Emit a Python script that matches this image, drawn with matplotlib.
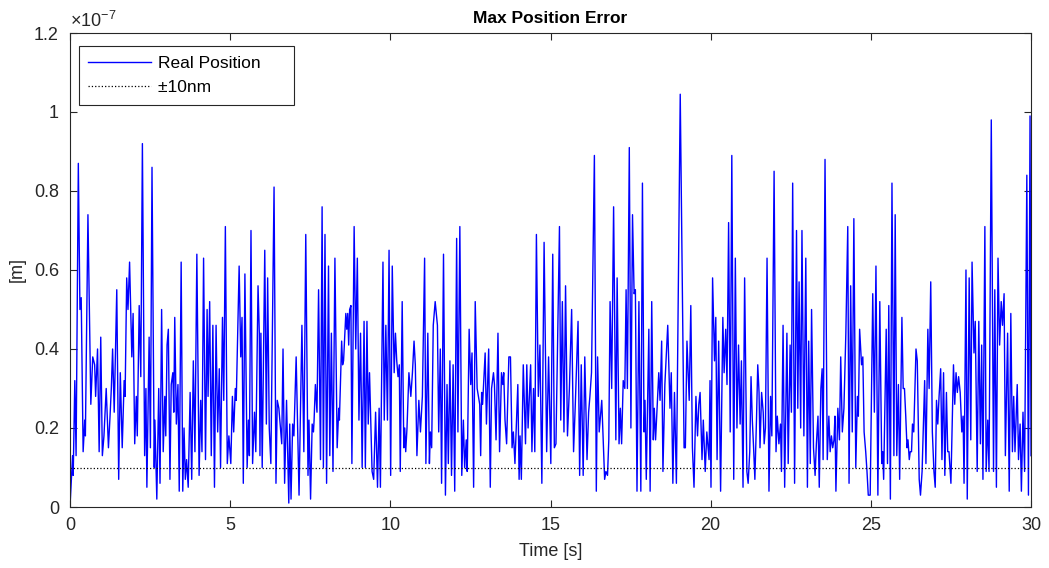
import matplotlib
matplotlib.use("Agg")
import matplotlib.pyplot as plt
from matplotlib.ticker import FuncFormatter

# position error samples (time in s, error in nm)
time_s = [
    0.00, 0.08, 0.10, 0.15, 0.19, 0.26, 0.31, 0.35, 0.41, 0.46, 0.48, 0.56, 0.65, 0.71, 0.77, 0.80, 0.86, 0.91, 0.96, 1.01, 1.06, 1.13, 1.20, 1.25, 1.29, 1.33, 1.38, 1.46, 1.52, 1.57, 1.63, 1.69, 1.72, 1.77, 1.81, 1.86, 1.93, 1.97, 2.02, 2.07, 2.10, 2.16, 2.21, 2.26, 2.33, 2.37, 2.40, 2.47, 2.51,
    2.56, 2.63, 2.65, 2.71, 2.77, 2.81, 2.86, 2.91, 2.96, 2.99, 3.03, 3.07, 3.12, 3.16, 3.21, 3.24, 3.27, 3.32, 3.37, 3.41, 3.47, 3.52, 3.56, 3.60, 3.64, 3.69, 3.75, 3.80, 3.85, 3.90, 3.96, 4.03, 4.08, 4.12, 4.17, 4.23, 4.28, 4.31, 4.36, 4.41, 4.46, 4.51, 4.56, 4.61, 4.66, 4.70, 4.76, 4.80, 4.85, 4.91, 4.96,
    5.02, 5.07, 5.11, 5.16, 5.19, 5.28, 5.33, 5.37, 5.41, 5.46, 5.53, 5.57, 5.60, 5.65, 5.70, 5.76, 5.80, 5.87, 5.91, 5.93, 5.96, 6.00, 6.08, 6.13, 6.17, 6.22, 6.27, 6.37, 6.43, 6.47, 6.52, 6.57, 6.61, 6.65, 6.70, 6.76, 6.83, 6.86, 6.90, 6.95, 6.99, 7.06, 7.15, 7.24, 7.30, 7.36, 7.43, 7.46,
    7.51, 7.56, 7.60, 7.62, 7.66, 7.71, 7.76, 7.82, 7.87, 7.91, 7.96, 8.01, 8.07, 8.11, 8.16, 8.21, 8.27, 8.34, 8.39, 8.41, 8.48, 8.51, 8.54, 8.61, 8.64, 8.67, 8.70, 8.73, 8.77, 8.80, 8.87, 8.92, 8.97, 9.02, 9.07, 9.12, 9.18, 9.22, 9.27, 9.31, 9.35, 9.43, 9.48, 9.54, 9.60, 9.65, 9.69, 9.77, 9.81, 9.86, 9.91, 9.96,
    10.01, 10.06, 10.12, 10.16, 10.20, 10.24, 10.28, 10.31, 10.37, 10.42, 10.45, 10.48, 10.52, 10.58, 10.64, 10.69, 10.74, 10.78, 10.83, 10.89, 10.94, 11.00, 11.07, 11.11, 11.17, 11.22, 11.25, 11.29, 11.34, 11.40, 11.47, 11.51, 11.56, 11.60, 11.66, 11.72, 11.77, 11.81, 11.86, 11.91, 11.96, 12.01, 12.07, 12.11, 12.17, 12.23, 12.28, 12.32, 12.37, 12.40,
    12.46, 12.51, 12.55, 12.60, 12.65, 12.71, 12.75, 12.79, 12.82, 12.85, 12.88, 12.96, 13.00, 13.07, 13.12, 13.16, 13.22, 13.25, 13.30, 13.36, 13.41, 13.47, 13.51, 13.54, 13.58, 13.63, 13.70, 13.75, 13.80, 13.84, 13.89, 13.98, 14.02, 14.05, 14.09, 14.15, 14.22, 14.26, 14.30, 14.34, 14.38, 14.42, 14.47, 14.51, 14.56, 14.62, 14.67, 14.73, 14.80, 14.88,
    14.94, 15.01, 15.07, 15.12, 15.17, 15.28, 15.32, 15.37, 15.42, 15.47, 15.53, 15.59, 15.66, 15.72, 15.77, 15.86, 15.91, 15.96, 16.02, 16.07, 16.14, 16.19, 16.23, 16.28, 16.37, 16.43, 16.47, 16.52, 16.56, 16.60, 16.65, 16.69, 16.73, 16.78, 16.82, 16.86, 16.91, 16.97, 17.04, 17.08, 17.14, 17.18, 17.22, 17.27, 17.32, 17.36, 17.40, 17.46,
    17.51, 17.56, 17.61, 17.65, 17.70, 17.76, 17.82, 17.87, 17.92, 17.95, 17.99, 18.07, 18.11, 18.16, 18.21, 18.24, 18.28, 18.38, 18.42, 18.47, 18.51, 18.57, 18.66, 18.73, 18.77, 18.82, 18.87, 18.93, 19.05, 19.17, 19.21, 19.26, 19.33, 19.38, 19.43, 19.48, 19.54, 19.59, 19.63, 19.67, 19.73, 19.77, 19.83, 19.88,
    19.95, 19.98, 20.01, 20.06, 20.12, 20.16, 20.20, 20.25, 20.31, 20.38, 20.42, 20.47, 20.51, 20.56, 20.61, 20.66, 20.72, 20.77, 20.82, 20.87, 20.92, 20.96, 21.01, 21.06, 21.13, 21.17, 21.22, 21.26, 21.30, 21.34, 21.38, 21.43, 21.47, 21.51, 21.54, 21.59, 21.64, 21.67, 21.71, 21.76, 21.82, 21.87, 21.91, 21.98, 22.04, 22.08, 22.13, 22.18, 22.21, 22.26, 22.31, 22.38, 22.42,
    22.48, 22.52, 22.56, 22.62, 22.68, 22.72, 22.76, 22.81, 22.85, 22.91, 22.97, 23.02, 23.06, 23.11, 23.15, 23.21, 23.26, 23.30, 23.35, 23.39, 23.44, 23.48, 23.51, 23.57, 23.64, 23.69, 23.73, 23.77, 23.81, 23.85, 23.88, 23.91, 23.97, 24.02, 24.06, 24.11, 24.16, 24.22, 24.28, 24.32, 24.37, 24.42, 24.47, 24.53, 24.58, 24.61, 24.65, 24.71, 24.75, 24.79, 24.84, 24.88, 24.92,
    24.98, 25.06, 25.11, 25.16, 25.22, 25.28, 25.34, 25.37, 25.40, 25.48, 25.52, 25.56, 25.61, 25.66, 25.72, 25.76, 25.81, 25.86, 25.90, 25.97, 26.01, 26.05, 26.09, 26.13, 26.16, 26.20, 26.23, 26.27, 26.30, 26.34, 26.41, 26.45, 26.51, 26.55, 26.60, 26.68, 26.72, 26.78, 26.82, 26.87, 26.92, 26.97, 27.01, 27.05, 27.09, 27.13, 27.18, 27.22, 27.27, 27.31, 27.36, 27.40, 27.44,
    27.50, 27.58, 27.62, 27.66, 27.70, 27.74, 27.79, 27.84, 27.88, 27.91, 27.97, 28.01, 28.07, 28.12, 28.16, 28.22, 28.26, 28.32, 28.37, 28.42, 28.46, 28.50, 28.56, 28.60, 28.65, 28.69, 28.76, 28.83, 28.87, 28.92, 28.97, 29.02, 29.07, 29.11, 29.16, 29.20, 29.27, 29.32, 29.37, 29.42, 29.46, 29.50, 29.57, 29.61, 29.66, 29.70, 29.75, 29.80, 29.87, 29.92, 29.97, 30.00,
]
error_nm = [
    0, 13, 8, 32, 13, 87, 50, 53, 14, 22, 18, 74, 26, 38, 36, 28, 40, 14, 43, 13, 18, 30, 15, 23, 30, 40, 24, 55, 7, 34, 15, 32, 28, 58, 50, 62, 38, 49, 16, 28, 18, 51, 33, 92, 13, 30, 5, 43, 15,
    86, 10, 22, 2, 30, 6, 50, 14, 28, 18, 41, 45, 7, 31, 34, 24, 48, 21, 31, 4, 62, 4, 20, 7, 12, 5, 29, 7, 37, 14, 64, 8, 27, 14, 63, 12, 50, 28, 52, 13, 46, 5, 46, 19, 35, 10, 48, 27, 71, 11, 18,
    11, 28, 19, 30, 27, 61, 38, 48, 6, 59, 10, 22, 13, 70, 11, 24, 14, 56, 44, 13, 44, 10, 65, 21, 58, 20, 11, 81, 6, 27, 25, 20, 16, 40, 6, 27, 1, 21, 2, 21, 18, 38, 3, 46, 14, 69, 8, 22,
    2, 21, 19, 22, 31, 24, 55, 12, 76, 10, 69, 6, 61, 13, 44, 9, 63, 15, 25, 22, 42, 36, 37, 49, 45, 49, 41, 50, 51, 11, 71, 40, 63, 22, 44, 10, 47, 10, 47, 21, 34, 9, 7, 24, 5, 25, 5, 62, 22, 46, 22, 65,
    8, 61, 34, 44, 37, 33, 36, 9, 52, 15, 20, 14, 20, 34, 28, 34, 42, 36, 13, 27, 19, 28, 63, 11, 44, 11, 19, 15, 46, 52, 46, 19, 40, 6, 64, 3, 31, 11, 37, 8, 36, 4, 68, 19, 71, 8, 22, 10, 17, 9,
    45, 31, 39, 5, 52, 30, 28, 26, 13, 29, 26, 39, 21, 40, 5, 30, 34, 31, 17, 44, 14, 34, 31, 34, 22, 16, 38, 38, 15, 19, 11, 31, 7, 18, 7, 36, 16, 36, 20, 28, 36, 14, 30, 14, 69, 28, 41, 6, 67, 14,
    38, 11, 64, 15, 16, 71, 22, 52, 19, 56, 18, 30, 50, 14, 25, 47, 8, 36, 8, 38, 12, 24, 28, 34, 89, 4, 38, 19, 23, 27, 16, 7, 9, 8, 17, 52, 30, 76, 17, 58, 16, 25, 16, 32, 30, 55, 30, 91,
    20, 74, 54, 55, 4, 52, 4, 82, 19, 27, 7, 45, 4, 52, 17, 25, 17, 34, 27, 42, 9, 31, 46, 25, 34, 6, 29, 6, 104.5, 15, 15, 42, 27, 51, 15, 5, 28, 18, 26, 29, 12, 22, 9, 19,
    12, 32, 5, 58, 37, 48, 12, 42, 4, 48, 34, 45, 31, 72, 19, 89, 7, 63, 20, 41, 21, 37, 5, 58, 9, 6, 14, 33, 22, 15, 7, 22, 36, 29, 15, 29, 24, 16, 20, 63, 4, 28, 18, 85, 14, 23, 16, 21, 9, 46, 5, 44, 11,
    41, 24, 82, 6, 70, 25, 57, 20, 70, 18, 63, 5, 42, 11, 50, 15, 8, 16, 23, 5, 30, 35, 12, 88, 12, 23, 14, 18, 15, 17, 23, 4, 25, 17, 38, 19, 25, 44, 71, 6, 56, 19, 73, 10, 28, 23, 45, 36, 38, 19, 14, 9, 3,
    3, 54, 24, 61, 3, 52, 11, 14, 7, 45, 11, 51, 2, 82, 13, 74, 13, 31, 7, 48, 30, 30, 23, 15, 17, 12, 14, 14, 21, 19, 40, 37, 7, 3, 9, 32, 11, 45, 30, 57, 19, 9, 5, 27, 21, 28, 35, 12, 34, 8, 29, 14, 14,
    6, 36, 26, 34, 29, 33, 29, 19, 23, 6, 60, 2, 58, 17, 62, 39, 47, 9, 47, 16, 41, 7, 71, 9, 22, 9, 98, 9, 55, 5, 63, 41, 52, 46, 54, 13, 44, 4, 49, 14, 28, 14, 31, 12, 21, 4, 24, 9, 84, 3, 99, 13,
]
limit_nm = 10
x_ticks = [0, 5, 10, 15, 20, 25, 30]
y_ticks = [0, 0.2e-7, 0.4e-7, 0.6e-7, 0.8e-7, 1.0e-7, 1.2e-7]

plt.rcParams['font.family'] = ['Liberation Sans', 'DejaVu Sans']
plt.rcParams['mathtext.fontset'] = 'custom'
plt.rcParams['mathtext.rm'] = 'Liberation Sans'

err_m = [v * 1e-9 for v in error_nm]

fig = plt.figure(figsize=(10.49, 5.68), dpi=100)
ax = fig.add_axes([70 / 1049, 1 - 507 / 568, 961 / 1049, 474 / 568])

ax.plot(time_s, err_m, color=(0, 0, 1), lw=1.0, label='Real Position')
ax.axhline(limit_nm * 1e-9, color='black', ls=':', lw=0.9, label='±10nm')

ax.set_xlim(0, 30)
ax.set_ylim(0, 1.2e-7)
ax.set_xticks(x_ticks)
ax.set_yticks(y_ticks)
ax.yaxis.set_major_formatter(FuncFormatter(lambda v, p: f'{v * 1e7:g}'))
ax.text(0, 1.005, r'$\times10^{-7}$', transform=ax.transAxes, fontsize=13,
        va='bottom', ha='left', color='0.15')

ax.tick_params(direction='in', top=True, right=True, labelsize=13,
               colors='0.15', length=5, width=0.8)
ax.tick_params(axis='x', pad=7)
ax.tick_params(axis='y', pad=8)
for s in ax.spines.values():
    s.set_color('0.15')
    s.set_linewidth(0.8)

ax.set_title('Max Position Error', fontsize=12.5, fontweight='bold', pad=7)
ax.set_xlabel('Time [s]', fontsize=13, color='0.15', labelpad=7)
ax.set_ylabel('[m]', fontsize=13, color='0.15', labelpad=6)

leg = ax.legend(loc='upper left', fontsize=12.5, fancybox=False, framealpha=1,
                edgecolor='0.15', handlelength=3.6, handletextpad=0.4,
                borderaxespad=0.5, borderpad=0.55, labelspacing=0.5,
                bbox_to_anchor=(0.0, 0.99))
leg.get_frame().set_linewidth(0.8)
for t in leg.get_texts():
    t.set_text(t.get_text() + '     ')

fig.savefig('out.png', dpi=100)
